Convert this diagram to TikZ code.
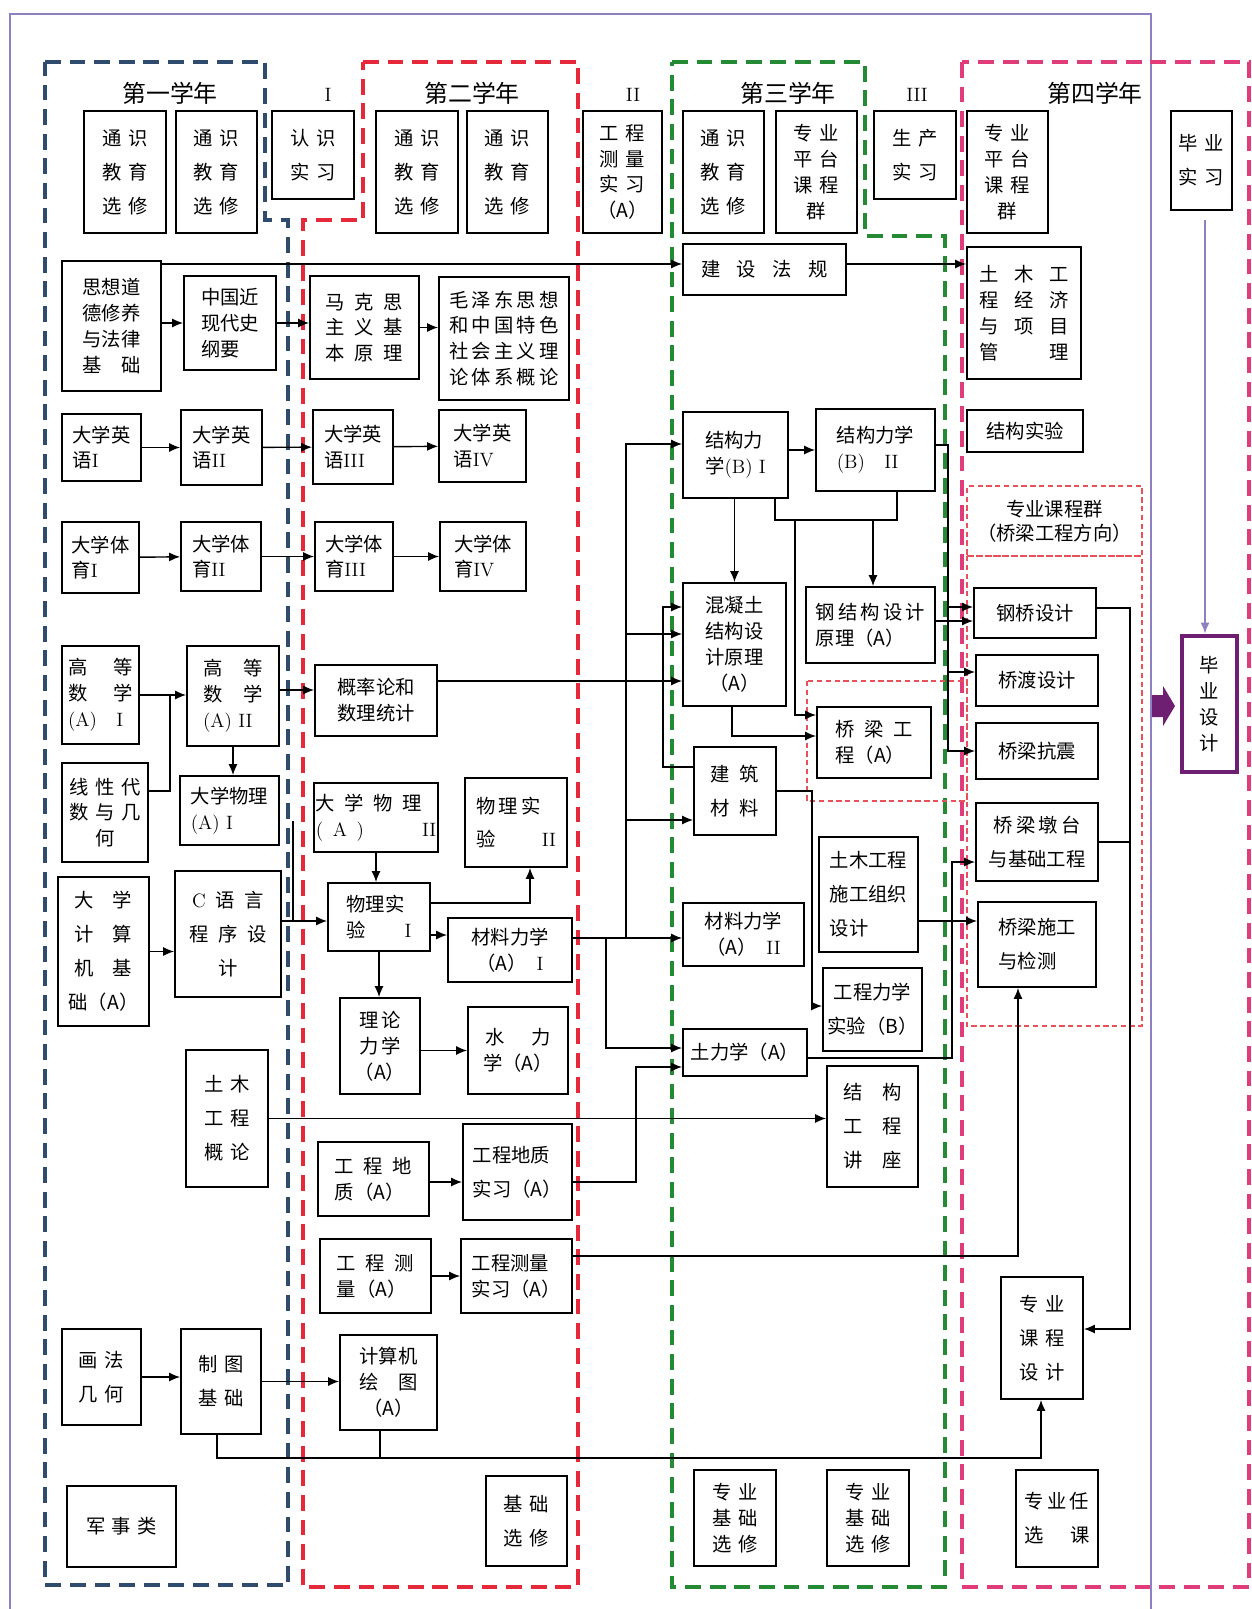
\documentclass[tikz,border=0pt]{standalone}
\usepackage{fontspec}
\usepackage{tikz}
\usetikzlibrary{arrows.meta}
\newfontfamily\cjk{Noto Sans CJK SC}
\newcommand{\rnum}[1]{{\rmfamily #1}}
\definecolor{yrblue}{HTML}{2F4B6E}
\definecolor{yrred}{HTML}{E5283A}
\definecolor{yrgreen}{HTML}{248A33}
\definecolor{yrpink}{HTML}{E03C7A}
\definecolor{grpred}{HTML}{E8505A}
\definecolor{framepurple}{HTML}{9080C0}
\definecolor{bypurple}{HTML}{6E1F72}

\begin{document}
\begin{tikzpicture}[x=0.2mm, y=-0.2mm, line width=0.8pt]
\tikzset{
    box/.style={draw, line width=1pt, inner sep=1pt, align=center,
        font=\cjk\fontsize{11}{14.7}\selectfont},
    wide/.style={font=\cjk\fontsize{11}{19.3}\selectfont},
    sz/.style 2 args={minimum width=#1*0.2mm, minimum height=#2*0.2mm},
    yearbox/.style={line width=2pt, dash pattern=on 9pt off 5pt},
    grpbox/.style={draw=grpred, line width=0.7pt, dash pattern=on 3pt off 2pt},
    title/.style={font=\cjk\fontsize{13.6}{16}\selectfont},
    roman/.style={font=\rmfamily\fontsize{11}{13}\selectfont},
    >={Latex[length=2.2mm, width=1.8mm]}
}
\useasboundingbox (0,0) rectangle (1251,1609);

% Frame and years
\draw[framepurple, line width=0.9pt] (10,1609) -- (10,14) -- (1151,14) -- (1151,1609);
\draw[yearbox, draw=yrblue] (45,62) -- (265,62) -- (265,220) -- (288,220) -- (288,1585) -- (45,1585) -- cycle;
\draw[yearbox, draw=yrred] (363,62) -- (578,62) -- (578,1587) -- (303,1587) -- (303,220) -- (363,220) -- cycle;
\draw[yearbox, draw=yrgreen] (672,62) -- (865,62) -- (865,236) -- (945,236) -- (945,1587) -- (672,1587) -- cycle;
\draw[yearbox, draw=yrpink] (962,62) rectangle (1249,1587);
\draw[grpbox] (967,556) rectangle (1142,1026);
\draw[grpbox] (807,681) rectangle (967,801);

\node[title] (y1) at (170,93) {第一学年};
\node[title] (y2) at (472,93) {第二学年};
\node[title] (y3) at (788,93) {第三学年};
\node[title] (y4) at (1095,93) {第四学年};
\node[roman] (p1) at (328,95) {I};
\node[roman] (p2) at (633,95) {II};
\node[roman] (p3) at (917,95) {III};

% Top row
\node[box, wide, sz={82}{122}] (ts1) at (125,172) {通\,\,识\\教\,\,育\\选\,\,修};
\node[box, wide, sz={81}{122}] (ts2) at (216.5,172) {通\,\,识\\教\,\,育\\选\,\,修};
\node[box, wide, sz={82}{88}] (rsxs) at (313,155) {认\,\,识\\实\,\,习};
\node[box, wide, sz={82}{122}] (ts3) at (417,172) {通\,\,识\\教\,\,育\\选\,\,修};
\node[box, wide, sz={81}{122}] (ts4) at (507.5,172) {通\,\,识\\教\,\,育\\选\,\,修};
\node[box, sz={79}{122}] (gccl) at (622.5,172) {工\,\,程\\测\,\,量\\实\,\,习\\（A）};
\node[box, wide, sz={81}{122}] (ts5) at (723.5,172) {通\,\,识\\教\,\,育\\选\,\,修};
\node[box, sz={81}{122}] (zypt1) at (816.5,172) {专\,\,业\\平\,\,台\\课\,\,程\\群};
\node[box, wide, sz={82}{88}] (scsx) at (915,155) {生\,\,产\\实\,\,习};
\node[box, sz={81}{122}] (zypt2) at (1007.5,172) {专\,\,业\\平\,\,台\\课\,\,程\\群};
\node[box, wide, sz={61}{99}] (bysx) at (1201.5,160.5) {毕\,\,业\\实\,\,习};

% Politics and law
\node[box, sz={99}{130}] (sxdd) at (111.5,326) {思想道\\德修养\\与法律\\基\hspace{1em}础};
\node[box, sz={92}{94}, align=left] (zgjx) at (230,323) {中国近\\现代史\\纲要};
\node[box, sz={109}{103}] (mks) at (364.5,327.5) {马\enspace 克\enspace 思\\主\enspace 义\enspace 基\\本\enspace 原\enspace 理};
\node[box, sz={130}{123}] (mzd) at (504,338.5) {毛\,泽\,东\,思\,想\\和\,中\,国\,特\,色\\社\,会\,主\,义\,理\\论\,体\,系\,概\,论};
\node[box, sz={163}{51}] (jsfg) at (764.5,269.5) {建\hspace{.85em}设\hspace{.85em}法\hspace{.85em}规};
\node[box, sz={114}{132}] (tmjj) at (1024,313) {土\hspace{.8em}木\hspace{.8em}工\\程\hspace{.8em}经\hspace{.8em}济\\与\hspace{.8em}项\hspace{.8em}目\\管\hspace{2.6em}理};

% English and sports
\node[box, sz={79}{67}, align=left] (yy1) at (101.5,447.5) {大学英\\语\rnum{I}};
\node[box, sz={81}{75}, align=left] (yy2) at (221.5,447.5) {大学英\\语\rnum{II}};
\node[box, sz={80}{74}, align=left] (yy3) at (353,447) {大学英\\语\rnum{III}};
\node[box, sz={87}{72}, align=left] (yy4) at (482.5,446) {大学英\\语\rnum{IV}};
\node[box, sz={77}{71}, align=left] (ty1) at (100.5,557.5) {大学体\\育\rnum{I}};
\node[box, sz={80}{69}, align=left] (ty2) at (221,556.5) {大学体\\育\rnum{II}};
\node[box, sz={78}{69}, align=left] (ty3) at (354,556.5) {大学体\\育\rnum{III}};
\node[box, sz={86}{69}, align=left] (ty4) at (483,556.5) {大学体\\育\rnum{IV}};

% Structures
\node[box, sz={105}{86}, align=left] (jglx1) at (735.5,455) {结构力\\学\rnum{(B) I}};
\node[box, sz={119}{82}, align=left] (jglx2) at (875.5,450) {结构力学\\\rnum{(B)\quad II}};
\node[box, sz={116}{42}] (jgsy) at (1025,431) {结构实验};
\node[grpbox, sz={175}{70}, align=center, inner sep=1pt,
    font=\cjk\fontsize{11}{13.6}\selectfont] (zykcq) at (1054.5,521) {专业课程群\\（桥梁工程方向）};
\node[box, sz={129}{76}, align=left] (gjg) at (870.5,625) {钢\,结\,构\,设\,计\\原理（A）};
\node[box, sz={103}{123}] (hnt) at (734.5,644.5) {混凝土\\结构设\\计原理\\（A）};
\node[box, sz={122}{50}] (gqsj) at (1035,613) {钢桥设计};
\node[box, sz={122}{51}] (qdsj) at (1037,680.5) {桥渡设计};
\node[box, sz={114}{71}, align=left] (qlgc) at (874,742.5) {桥\enspace 梁\enspace 工\\程（A）};
\node[box, sz={122}{56}] (qlkz) at (1037,751) {桥梁抗震};
\node[box, wide, sz={122}{78}] (qldt) at (1037,842) {桥\,梁\,墩\,台\\与基础工程};
\node[box, wide, sz={118}{85}, align=left] (qlsg) at (1037,944.5) {桥梁施工\\与检测};
\node[box, draw=bypurple, line width=2.8pt, sz={55}{136}] (bysj) at (1209.5,704) {毕\\业\\设\\计};

% Maths and physics
\node[box, sz={77}{98}, align=left] (gs1) at (100.5,695) {高\hspace{1.35em}等\\数\hspace{1.35em}学\\\rnum{(A)\quad I}};
\node[box, sz={92}{100}, align=left] (gs2) at (233,696) {高\hspace{1.1em}等\\数\hspace{1.1em}学\\\rnum{(A) II}};
\node[box, sz={122}{71}] (gll) at (376,700.5) {概率论和\\数理统计};
\node[box, sz={86}{99}] (xxds) at (105,812.5) {线\,\,性\,\,代\\数\,\,与\,\,几\\何};
\node[box, sz={99}{69}, align=left] (dxwl1) at (229.5,810.5) {大学物理\\\rnum{(A) I}};
\node[box, sz={122}{69}, align=left] (dxwl2) at (376,817.5) {大\enspace 学\enspace 物\enspace 理\\\rnum{(\enspace A\enspace)\hspace{3em}II}};
\node[box, sz={102}{68}, align=left] (wlsy1) at (379,917) {物理实\\验\hspace{2em}\rnum{I}};
\node[box, wide, sz={102}{89}, align=left] (wlsy2) at (516,822.5) {物\,理\,实\\验\hspace{2.4em}\rnum{II}};
\node[box, wide, sz={91}{149}] (jsj) at (103.5,951.5) {大\hspace{.95em}学\\计\hspace{.95em}算\\机\hspace{.95em}基\\础（A）};
\node[box, wide, sz={106}{126}] (cyy) at (228,934) {\rnum{C}\enspace 语\enspace 言\\程\enspace 序\enspace 设\\计};
\node[box, sz={124}{64}] (clx1) at (510,950) {材料力学\\（A）\enspace\rnum{I}};
\node[box, sz={80}{96}] (llx) at (380,1046) {理\,论\\力\,学\\（A）};
\node[box, sz={100}{87}] (slx) at (518,1050.5) {水\hspace{1.35em}力\\学（A）};

% Third year middle
\node[box, wide, sz={82}{88}] (jzcl) at (735,791) {建\enspace 筑\\材\enspace 料};
\node[box, sz={121}{63}] (clx2) at (743.5,934.5) {材料力学\\（A）\enspace\rnum{II}};
\node[box, wide, sz={99}{115}, align=left] (sgzz) at (868.5,894.5) {土木工程\\施工组织\\设计};
\node[box, wide, sz={99}{83}] (gclxsy) at (872.5,1009.5) {工程力学\\实验（B）};
\node[box, sz={124}{47}] (tlx) at (745,1052.5) {土力学（A）};
\node[box, wide, sz={82}{137}] (tmgl) at (227,1118.5) {土\,\,木\\工\,\,程\\概\,\,论};
\node[box, wide, sz={91}{121}] (jggc) at (872.5,1126.5) {结\hspace{1em}构\\工\hspace{1em}程\\讲\hspace{1em}座};
\node[box, sz={111}{74}, align=left] (gcdz) at (373.5,1179) {工\enspace 程\enspace 地\\质（A）};
\node[box, wide, sz={109}{96}, align=left] (gcdzsx) at (517.5,1172) {工程地质\\实习（A）};
\node[box, sz={111}{74}, align=left] (gccl2) at (375.5,1276) {工\enspace 程\enspace 测\\量（A）};
\node[box, sz={111}{74}, align=left] (gcclsx) at (516.5,1276) {工程测量\\实习（A）};
\node[box, wide, sz={82}{122}] (zykcsj) at (1042,1338) {专\,\,业\\课\,\,程\\设\,\,计};

% Drawing and electives
\node[box, wide, sz={79}{96}] (hfjh) at (101.5,1377) {画\,\,法\\几\,\,何};
\node[box, wide, sz={80}{105}] (ztjc) at (221,1381.5) {制\,\,图\\基\,\,础};
\node[box, sz={97}{95}] (jsjht) at (388.5,1382.5) {计算机\\绘\hspace{1em}图\\（A）};
\node[box, sz={109}{81}] (jsl) at (121.5,1526.5) {军\,\,事\,\,类};
\node[box, wide, sz={81}{90}] (jcxx) at (526.5,1521) {基\,\,础\\选\,\,修};
\node[box, sz={82}{96}] (zyjc1) at (735,1518) {专\,\,业\\基\,\,础\\选\,\,修};
\node[box, sz={82}{96}] (zyjc2) at (868,1518) {专\,\,业\\基\,\,础\\选\,\,修};
\node[box, wide, sz={82}{97}] (zyrx) at (1057,1518.5) {专\,业\,任\\选\hspace{1.4em}课};

% Junctions
\coordinate (s1) at (161,264);
\coordinate (k1) at (775,520);
\coordinate (k2) at (897,520);
\coordinate (k3) at (873,520);
\coordinate (k4) at (795,520);
\coordinate (k5) at (795,715);
\coordinate (k6) at (732,736);
\coordinate (k8) at (948,445);
\coordinate (k9) at (948,607);
\coordinate (k10) at (948,672);
\coordinate (k12) at (940,621);
\coordinate (k13) at (1130,608);
\coordinate (k14) at (1130,1329);
\coordinate (k16) at (920,921);
\coordinate (k17) at (952,1058);
\coordinate (k18) at (952,862);
\coordinate (k19) at (812,1006);
\coordinate (k21) at (663,767);
\coordinate (k22) at (663,607);
\coordinate (k23) at (606,938);
\coordinate (k24) at (626,938);
\coordinate (k25) at (626,444);
\coordinate (k26) at (626,634);
\coordinate (k27) at (626,820);
\coordinate (k29) at (606,1048);
\coordinate (k30) at (440,681);
\coordinate (k31) at (285,690);
\coordinate (k32) at (170,791);
\coordinate (k33) at (170,696);
\coordinate (k35) at (285,921);
\coordinate (k36) at (293,821);
\coordinate (k37) at (293,921);
\coordinate (k38) at (530,903);
\coordinate (k39) at (440,935);
\coordinate (k41) at (440,1182);
\coordinate (k42) at (636,1182);
\coordinate (k43) at (636,1067);
\coordinate (k44) at (1018,1256);
\coordinate (k45) at (217,1458);
\coordinate (k46) at (1041,1458);
\coordinate (k47) at (380,1458);
\coordinate (k48) at (1205,220);

% Connections
\draw[->] (sxdd.east |- zgjx) -- (zgjx);
\draw[->] (zgjx) -- (zgjx -| mks.west);
\draw[->] (mks) -- (mks -| mzd.west);
\draw[->] (s1) -- (s1 -| jsfg.west);
\draw[->] (jsfg.east |- s1) -- (s1 -| tmjj.west);
\draw[->] (yy1) -- (yy2);
\draw[->] (yy2) -- (yy3);
\draw[->] (yy3) -- (yy4);
\draw[->] (ty1) -- (ty2);
\draw[->] (ty2) -- (ty3);
\draw[->] (ty3) -- (ty4);
\draw[->] (jglx1.east |- jglx2) -- (jglx2);
\draw[->] (jglx1.south -| hnt) -- (hnt);
\draw (jglx1.south -| k1) -- (k1) -- (k2) -- (jglx2.south -| k2);
\draw[->] (k3) -- (k3 |- gjg.north);
\draw[->] (k4) -- (k5) -- (k5 -| qlgc.west);
\draw[->] (hnt.south -| k6) -- (k6) -- (k6 -| qlgc.west);
\draw[->] (jglx2.east |- k8) -- (k8) |- (qlkz);
\draw[->] (k9) -- (k9 -| gqsj.west);
\draw[->] (k10) -- (k10 -| qdsj.west);
\draw[->] (gjg.east |- k12) -- (k12 -| gqsj.west);
\draw[->] (gqsj.east |- k13) -- (k13) -- (k14) -- (k14 -| zykcsj.east);
\draw (qldt) -- (qldt -| k13);
\draw[->] (sgzz.east |- k16) -- (k16 -| qlsg.west);
\draw[->] (tlx.east |- k17) -- (k17) -- (k18) -- (k18 -| qldt.west);
\draw[->] (jzcl) -| (k19) -- (k19 -| gclxsy.west);
\draw[->] (jzcl.west |- k21) -- (k21) -- (k22) -- (k22 -| hnt.west);
\draw[->] (clx1.east |- k23) -- (k23 -| clx2.west);
\draw[->] (k24) -- (k25) -- (k25 -| jglx1.west);
\draw[->] (k26) -- (k26 -| hnt.west);
\draw[->] (k27) -- (k27 -| jzcl.west);
\draw[->] (k23) -- (k29) -- (k29 -| tlx.west);
\draw[->] (gll.east |- k30) -- (k30 -| hnt.west);
\draw[->] (gs2.east |- k31) -- (k31 -| gll.west);
\draw[->] (gs1) -- (gs1 -| gs2.west);
\draw (xxds.east |- k32) -- (k32) -- (k33);
\draw[->] (gs2) -- (gs2 |- dxwl1.north);
\draw[->] (jsj) -- (jsj -| cyy.west);
\draw[->] (cyy.east |- k35) -- (k35 -| wlsy1.west);
\draw (k36) -- (k37);
\draw[->] (dxwl2) -- (dxwl2 |- wlsy1.north);
\draw[->] (wlsy1.east |- k38) -- (k38) -- (k38 |- wlsy2.south);
\draw[->] (wlsy1.east |- k39) -- (k39 -| clx1.west);
\draw[->] (wlsy1) -- (wlsy1 |- llx.north);
\draw[->] (llx.east |- slx) -- (slx);
\draw[->] (tmgl) -- (tmgl -| jggc.west);
\draw[->] (gcdz.east |- k41) -- (k41 -| gcdzsx.west);
\draw[->] (gcdzsx.east |- k42) -- (k42) -- (k43) -- (k43 -| tlx.west);
\draw[->] (gccl2) -- (gccl2 -| gcclsx.west);
\draw[->] (gcclsx.east |- k44) -- (k44) -- (k44 |- qlsg.south);
\draw[->] (hfjh) -- (hfjh -| ztjc.west);
\draw[->] (ztjc) -- (ztjc -| jsjht.west);
\draw[->] (ztjc.south -| k45) -- (k45) -- (k46) -- (k46 |- zykcsj.south);
\draw (jsjht.south -| k47) -- (k47);
\draw[->, framepurple] (k48) -- (k48 |- bysj.north);
\fill[bypurple] (1152,695) -- (1163,695) -- (1163,686) -- (1175,706) -- (1163,726) -- (1163,717) -- (1152,717) -- cycle;

\end{tikzpicture}
\end{document}
